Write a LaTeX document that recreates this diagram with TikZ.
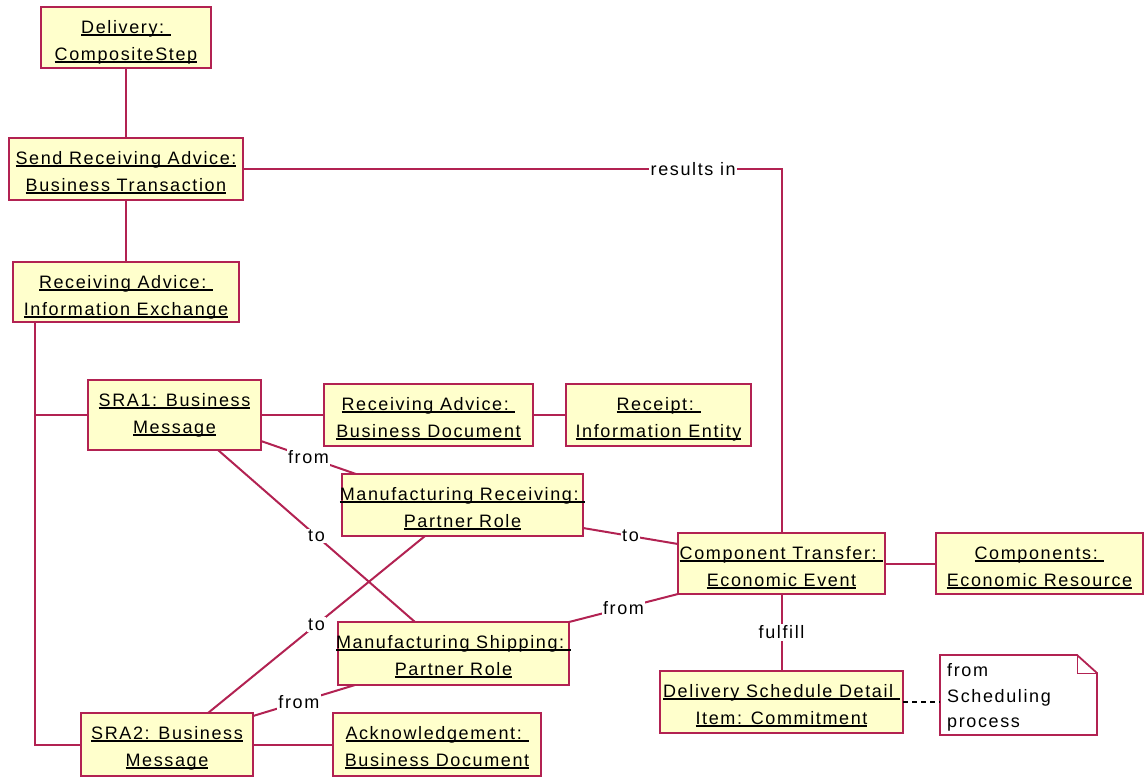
\documentclass[tikz,border=0pt]{standalone}
\usepackage{fontspec}
\setmainfont{Liberation Sans}[LetterSpace=9]
\usetikzlibrary{calc}

\definecolor{umlred}{RGB}{178,34,82}
\definecolor{umlfill}{RGB}{255,255,204}

\newcommand{\objfont}{\fontsize{18}{27}\selectfont}
% underline at a fixed depth below the baseline
\newcommand{\ulbox}[1]{\setbox0\hbox{#1}\rlap{\rule[-2.8pt]{\wd0}{1.5pt}}\box0}
% object box: name, x1, y1, x2, y2, first line, second line
\newcommand{\umlobj}[7]{%
  \node[objbox, minimum width={(#4-#2)*1pt}, minimum height={(#5-#3)*1pt}]
    (#1) at ({(#2+#4)/2},{(#3+#5)/2}) {};
  \node[objtext] (#1-a) at ($(#1.north)+(0,26)$) {\ulbox{#6}};
  \node[objtext] (#1-b) at ($(#1.north)+(0,53)$) {\ulbox{#7}};
}

\begin{document}
\begin{tikzpicture}[x=1pt,y=-1pt,
  objbox/.style={draw=umlred, fill=umlfill, line width=2pt, inner sep=0pt, outer sep=0pt},
  objtext/.style={anchor=base, inner sep=0pt, font=\objfont},
  conn/.style={draw=umlred, line width=2pt},
  lbl/.style={fill=white, inner sep=1.5pt, font=\objfont},
  notetext/.style={anchor=base west, inner sep=0pt, font=\objfont},
]
\useasboundingbox (0,0) rectangle (1145,777);

% objects
\umlobj{del}{41}{7}{211}{68}{Delivery:\ }{CompositeStep}
\umlobj{sra}{9}{138}{243}{200}{Send Receiving Advice:}{Business Transaction}
\umlobj{raie}{13}{262}{239}{322}{Receiving Advice:\ }{Information Exchange}
\umlobj{sraa}{88}{380}{261}{450}{SRA1: Business}{Message}
\umlobj{rabd}{324}{384}{533}{446}{Receiving Advice:\ }{Business Document}
\umlobj{rie}{566}{384}{751}{446}{Receipt:\ }{Information Entity}
\umlobj{mr}{342}{474}{583}{536}{Manufacturing Receiving:\ }{Partner Role}
\umlobj{ms}{338}{622}{569}{685}{Manufacturing Shipping:\ }{Partner Role}
\umlobj{ct}{678}{533}{885}{594}{Component Transfer:\ }{Economic Event}
\umlobj{comp}{936}{533}{1143}{594}{Components:\ }{Economic Resource}
\umlobj{dsd}{660}{671}{903}{733}{Delivery Schedule Detail\ }{Item: Commitment}
\umlobj{srab}{81}{713}{253}{776}{SRA2: Business}{Message}
\umlobj{ack}{333}{713}{541}{776}{Acknowledgement:\ }{Business Document}

% note
\node[inner sep=0pt, outer sep=0pt, minimum width=157pt, minimum height=80pt] (note) at (1018.5,695) {};
\draw[draw=umlred, fill=white, line width=1.8pt]
  (note.south west) -- (note.north west) -- ([xshift=-20pt]note.north east)
  -- ([yshift=-18pt]note.north east) -- (note.south east) -- cycle;
\draw[draw=umlred, line width=0.8pt]
  ([xshift=-20pt]note.north east) |- ([yshift=-18pt]note.north east);
\node[notetext] (note-a) at ([xshift=7pt,yshift=-21pt]note.north west) {from};
\node[notetext] (note-b) at ([xshift=7pt,yshift=-47pt]note.north west) {Scheduling};
\node[notetext] (note-c) at ([xshift=7pt,yshift=-72pt]note.north west) {process};

% connectors
\draw[conn] (del.south) -- (sra.north);
\draw[conn] (sra.south) -- (raie.north);
\draw[conn] (sra.east) -| node[lbl, pos=0.418] (l-res) {results in} (ct.north);
\coordinate (trunk) at ([xshift=22pt]raie.south west);
\draw[conn] (trunk) |- (srab.west);
\draw[conn] (sraa.west) -- (sraa.west -| trunk);
\draw[conn] (sraa.east) -- (rabd.west);
\draw[conn] (rabd.east) -- (rie.west);
\draw[conn] (srab.east) -- (ack.west);
\draw[conn] ([yshift=9pt]sraa.south east) -- node[lbl] (l-f1) {from} ([xshift=14pt]mr.north west);
\draw[conn] ([xshift=-43pt]sraa.south east) -- node[lbl] (l-t1) {to} ([xshift=77pt]ms.north west);
\draw[conn] ([xshift=83pt]mr.south west) -- node[lbl] (l-t2) {to} ([xshift=127pt]srab.north west);
\draw[conn] ([xshift=17pt]ms.south west) -- node[lbl, pos=0.55] (l-f2) {from} ([yshift=-3pt]srab.north east);
\draw[conn] ([yshift=8pt]mr.south east) -- node[lbl] (l-t3) {to} ([yshift=-11pt]ct.north west);
\draw[conn] (ms.north east) -- node[lbl] (l-f3) {from} (ct.south west);
\draw[conn] (ct.east) -- (comp.west);
\draw[conn] (ct.south) -- node[lbl] (l-ful) {fulfill} (dsd.north);
\draw[line width=1.5pt, dash pattern=on 5pt off 4pt] (dsd.east) -- (dsd.east -| note.west);
\end{tikzpicture}
\end{document}
